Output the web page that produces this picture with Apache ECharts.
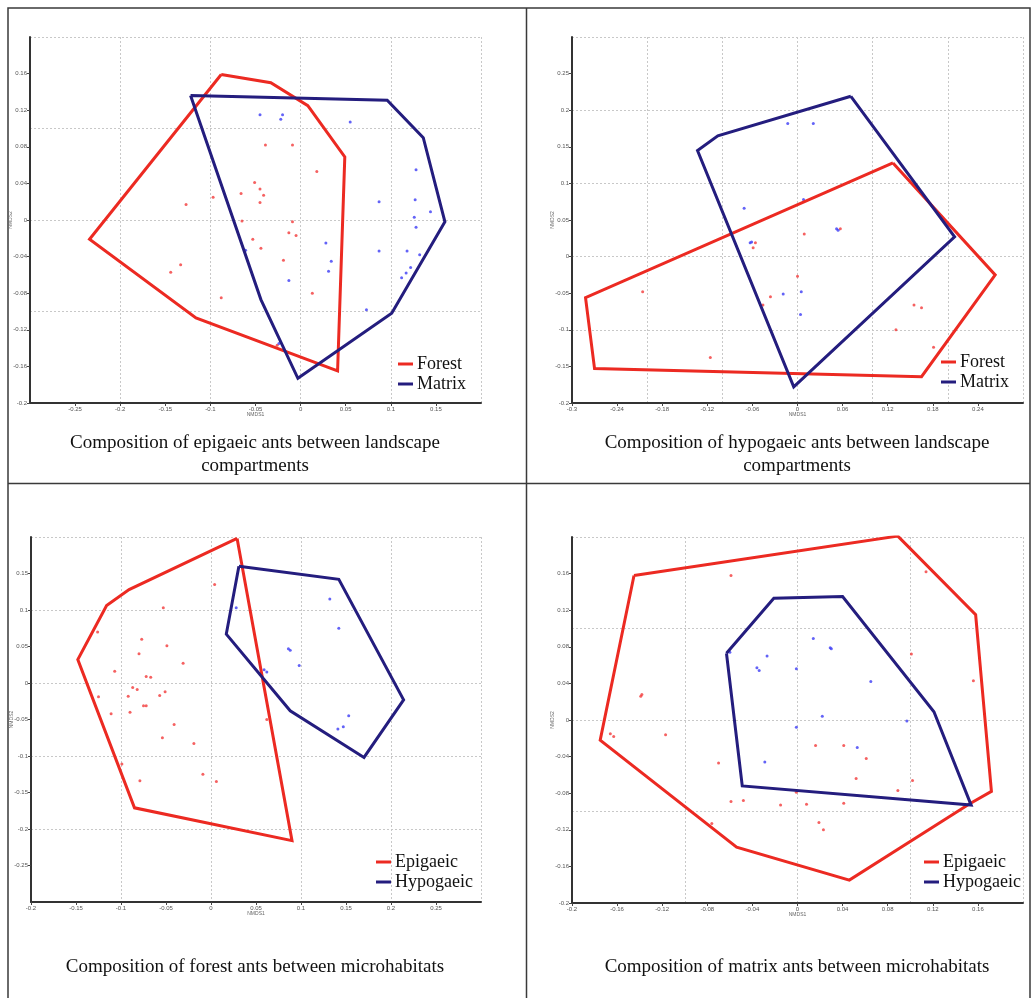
<!DOCTYPE html>
<html>
<head>
<meta charset="utf-8">
<title>NMDS ordination of ant assemblages</title>
<script src="https://cdn.jsdelivr.net/npm/echarts@6/dist/echarts.min.js"></script>
<style>
  html, body { margin: 0; padding: 0; background: #fff; }
  #chart { width: 1035px; height: 998px; }
</style>
</head>
<body>
<div id="chart"></div>
<script>
// ---- Epigaeic ants: Forest vs Matrix ----
const epiForestHull = [[-0.088,0.159],[-0.033,0.150],[0.008,0.125],[0.049,0.069],[0.041,-0.165],[-0.116,-0.107],[-0.234,-0.021],[-0.088,0.159]];
const epiMatrixHull = [[-0.122,0.136],[0.096,0.131],[0.136,0.090],[0.160,-0.002],[0.101,-0.102],[-0.003,-0.173],[-0.044,-0.087],[-0.122,0.136]];
const epiForestPts = [[-0.127,0.017],[-0.097,0.025],[-0.066,0.029],[-0.051,0.041],[-0.045,0.034],[-0.045,0.019],[-0.041,0.027],[-0.065,-0.001],[-0.053,-0.021],[-0.044,-0.031],[-0.133,-0.049],[-0.144,-0.057],[-0.088,-0.085],[-0.039,0.082],[-0.009,0.082],[0.018,0.053],[-0.009,-0.002],[-0.013,-0.014],[-0.005,-0.017],[-0.019,-0.044],[0.013,-0.080],[-0.026,-0.137]];
const epiMatrixPts = [[-0.045,0.115],[-0.020,0.115],[-0.022,0.110],[0.055,0.107],[-0.061,-0.033],[-0.013,-0.066],[0.028,-0.025],[0.034,-0.045],[0.031,-0.056],[0.087,0.020],[0.128,0.055],[0.127,0.022],[0.126,0.003],[0.128,-0.008],[0.144,0.009],[0.087,-0.034],[0.118,-0.034],[0.132,-0.038],[0.122,-0.052],[0.117,-0.058],[0.112,-0.063],[0.073,-0.098],[-0.024,-0.135]];

// ---- Hypogaeic ants: Forest vs Matrix ----
const hypoForestHull = [[0.127,0.128],[0.263,-0.025],[0.165,-0.164],[-0.270,-0.153],[-0.282,-0.056],[0.127,0.128]];
const hypoMatrixHull = [[0.071,0.219],[0.209,0.027],[-0.005,-0.178],[-0.133,0.145],[-0.106,0.165],[0.071,0.219]];
const hypoForestPts = [[-0.206,-0.048],[-0.116,-0.138],[-0.056,0.019],[-0.059,0.012],[-0.036,-0.055],[-0.046,-0.066],[0.009,0.031],[0.000,-0.027],[0.057,0.038],[0.155,-0.066],[0.165,-0.070],[0.131,-0.100],[0.181,-0.124]];
const hypoMatrixPts = [[-0.013,0.182],[0.021,0.182],[-0.071,0.066],[-0.063,0.019],[-0.061,0.020],[-0.019,-0.051],[0.008,0.078],[0.052,0.038],[0.054,0.036],[0.005,-0.048],[0.004,-0.079]];

// ---- Forest ants: Epigaeic vs Hypogaeic ----
const forEpiHull = [[0.029,0.198],[0.090,-0.216],[-0.085,-0.171],[-0.148,0.032],[-0.116,0.106],[-0.091,0.128],[0.029,0.198]];
const forHypoHull = [[0.031,0.160],[0.142,0.142],[0.214,-0.023],[0.170,-0.102],[0.088,-0.038],[0.017,0.067],[0.031,0.160]];
const forEpiPts = [[0.004,0.135],[-0.053,0.103],[-0.126,0.070],[-0.077,0.060],[-0.049,0.051],[-0.080,0.040],[-0.031,0.027],[-0.107,0.016],[-0.072,0.009],[-0.067,0.008],[-0.125,-0.019],[-0.087,-0.006],[-0.082,-0.009],[-0.092,-0.018],[-0.051,-0.012],[-0.057,-0.017],[-0.075,-0.031],[-0.072,-0.031],[-0.111,-0.042],[-0.090,-0.040],[-0.041,-0.057],[-0.054,-0.075],[-0.019,-0.083],[-0.099,-0.111],[-0.009,-0.125],[-0.079,-0.134],[0.006,-0.135],[0.062,-0.050]];
const forHypoPts = [[0.028,0.103],[0.086,0.047],[0.088,0.045],[0.098,0.024],[0.059,0.018],[0.062,0.015],[0.132,0.115],[0.142,0.075],[0.153,-0.045],[0.147,-0.060],[0.141,-0.063]];

// ---- Matrix ants: Epigaeic vs Hypogaeic ----
const matEpiHull = [[-0.145,0.158],[0.089,0.201],[0.158,0.115],[0.172,-0.078],[0.152,-0.092],[0.046,-0.175],[-0.054,-0.139],[-0.175,-0.022],[-0.145,0.158]];
const matHypoHull = [[-0.063,0.073],[-0.021,0.133],[0.040,0.135],[0.121,0.009],[0.154,-0.093],[-0.049,-0.072],[-0.063,0.073]];
const matEpiPts = [[-0.059,0.158],[-0.138,0.028],[-0.139,0.026],[-0.166,-0.015],[-0.163,-0.018],[-0.117,-0.016],[-0.070,-0.047],[-0.059,-0.089],[-0.048,-0.088],[-0.015,-0.093],[-0.076,-0.113],[0.114,0.162],[0.101,0.072],[0.156,0.043],[0.016,-0.028],[0.041,-0.028],[0.061,-0.042],[0.052,-0.064],[0.102,-0.066],[0.089,-0.077],[0.008,-0.092],[0.041,-0.091],[0.019,-0.112],[0.023,-0.120],[-0.001,-0.079]];
const matHypoPts = [[-0.060,0.074],[-0.027,0.070],[-0.036,0.057],[-0.034,0.054],[-0.029,-0.046],[0.014,0.089],[-0.001,0.056],[0.029,0.079],[0.030,0.078],[0.065,0.042],[0.022,0.004],[-0.001,-0.008],[0.053,-0.030],[0.097,-0.001]];

// ---- Axis scales: [min, max, tick interval] ----
const xScales = [[-0.3, 0.2, 0.05], [-0.3, 0.3, 0.06], [-0.2, 0.3, 0.05], [-0.2, 0.2, 0.04]];
const yScales = [[-0.2, 0.2, 0.04], [-0.2, 0.3, 0.05], [-0.3, 0.2, 0.05], [-0.2, 0.2, 0.04]];
// whether the end labels of each axis are printed: [showMin, showMax]
const xEndLabels = [[false, false], [true, false], [true, false], [true, false]];
const yEndLabels = [[true, false], [true, false], [false, false], [true, false]];

const legendNames = [['Forest', 'Matrix'], ['Forest', 'Matrix'], ['Epigaeic', 'Hypogaeic'], ['Epigaeic', 'Hypogaeic']];
const panelTitles = [
  ['Composition of epigaeic ants between landscape', 'compartments'],
  ['Composition of hypogaeic ants between landscape', 'compartments'],
  ['Composition of forest ants between microhabitats'],
  ['Composition of matrix ants between microhabitats']
];
const hulls = [[epiForestHull, epiMatrixHull], [hypoForestHull, hypoMatrixHull], [forEpiHull, forHypoHull], [matEpiHull, matHypoHull]];
const points = [[epiForestPts, epiMatrixPts], [hypoForestPts, hypoMatrixPts], [forEpiPts, forHypoPts], [matEpiPts, matHypoPts]];

// ---- Layout ----
const gridBoxes = [
  { left: 30, top: 37, width: 451, height: 366 },
  { left: 572, top: 37, width: 451, height: 366 },
  { left: 31, top: 537, width: 450, height: 365 },
  { left: 572, top: 537, width: 451, height: 366 }
];
const legendPos = [
  { left: 398, top: 354 },
  { left: 941, top: 352 },
  { left: 376, top: 852 },
  { left: 924, top: 852 }
];
const titlePos = [{ x: 255, y: 443 }, { x: 797, y: 443 }, { x: 255, y: 967 }, { x: 797, y: 967 }];

const RED = '#ec2a22';
const NAVY = '#241d7e';
const RED_PT = '#f23a3a';
const BLUE_PT = '#3c3cf5';
const SERIF = '"Liberation Serif", "DejaVu Serif", serif';

const grids = [], xAxes = [], yAxes = [], series = [], legends = [], graphics = [];

const labelStyle = { fontSize: 6, color: '#555', fontFamily: 'Arial, "Liberation Sans", sans-serif' };
const nameStyle = { fontSize: 5, color: '#666', fontFamily: 'Arial, "Liberation Sans", sans-serif' };
const gridLine = { show: true, lineStyle: { color: '#c8c8c8', type: [2, 2], width: 1 } };

gridBoxes.forEach((box, p) => {
  grids.push(box);
  const [x0, x1, xi] = xScales[p];
  const [y0, y1, yi] = yScales[p];
  // labelled axes
  xAxes.push({
    type: 'value', gridIndex: p, min: x0, max: x1, interval: xi,
    name: 'NMDS1', nameLocation: 'middle', nameGap: 9, nameMoveOverlap: false, nameTextStyle: nameStyle,
    axisLine: { show: true, onZero: false, lineStyle: { color: '#333', width: 2 } },
    axisTick: { show: true, length: 3, lineStyle: { color: '#444' } },
    axisLabel: { show: true, margin: 3, showMinLabel: xEndLabels[p][0], showMaxLabel: xEndLabels[p][1], ...labelStyle },
    splitLine: { show: false }
  });
  yAxes.push({
    type: 'value', gridIndex: p, min: y0, max: y1, interval: yi,
    name: 'NMDS2', nameLocation: 'middle', nameGap: 17, nameMoveOverlap: false, nameRotate: 90, nameTextStyle: nameStyle,
    axisLine: { show: true, onZero: false, lineStyle: { color: '#333', width: 2 } },
    axisTick: { show: true, length: 3, lineStyle: { color: '#444' } },
    axisLabel: { show: true, margin: 3, showMinLabel: yEndLabels[p][0], showMaxLabel: yEndLabels[p][1], ...labelStyle },
    splitLine: { show: false }
  });
  // dotted reference lines every 0.1
  xAxes.push({
    type: 'value', gridIndex: p, min: x0, max: x1, interval: 0.1,
    axisLine: { show: false }, axisTick: { show: false }, axisLabel: { show: false },
    splitLine: gridLine
  });
  yAxes.push({
    type: 'value', gridIndex: p, min: y0, max: y1, interval: 0.1,
    axisLine: { show: false }, axisTick: { show: false }, axisLabel: { show: false },
    splitLine: gridLine
  });
  const xi0 = p * 2, yi0 = p * 2;
  const names = legendNames[p];
  // site points
  series.push({
    type: 'scatter', name: names[0] + ' sites', xAxisIndex: xi0, yAxisIndex: yi0,
    data: points[p][0], symbolSize: 3, itemStyle: { color: RED_PT }, silent: true, z: 3
  });
  series.push({
    type: 'scatter', name: names[1] + ' sites', xAxisIndex: xi0, yAxisIndex: yi0,
    data: points[p][1], symbolSize: 3, itemStyle: { color: BLUE_PT }, silent: true, z: 3
  });
  // convex hulls
  series.push({
    type: 'line', name: names[0], xAxisIndex: xi0, yAxisIndex: yi0,
    data: hulls[p][0], showSymbol: false, symbol: 'none', color: RED,
    lineStyle: { color: RED, width: 3, join: 'miter' }, itemStyle: { color: RED }, silent: true, z: 4, animation: false
  });
  series.push({
    type: 'line', name: names[1], xAxisIndex: xi0, yAxisIndex: yi0,
    data: hulls[p][1], showSymbol: false, symbol: 'none', color: NAVY,
    lineStyle: { color: NAVY, width: 3, join: 'miter' }, itemStyle: { color: NAVY }, silent: true, z: 4, animation: false
  });
  legends.push({
    orient: 'vertical', left: legendPos[p].left, top: legendPos[p].top,
    data: names, icon: 'rect', itemWidth: 15, itemHeight: 3, itemGap: 0,
    selectedMode: false, padding: 0,
    textStyle: { fontFamily: SERIF, fontSize: 18, color: '#111', lineHeight: 20, padding: [0, 0, 0, -1] }
  });
  panelTitles[p].forEach((line, k) => {
    graphics.push({
      type: 'text', x: titlePos[p].x, y: titlePos[p].y + k * 23, silent: true,
      style: {
        text: line, font: '19px ' + SERIF, fill: '#111',
        align: 'center', verticalAlign: 'middle', textAlign: 'center', textVerticalAlign: 'middle'
      }
    });
  });
});

// panel frames
const frameStyle = { stroke: '#3a3a3a', lineWidth: 1.5, fill: null };
graphics.push({ type: 'rect', shape: { x: 8, y: 8, width: 1022, height: 992 }, style: frameStyle, silent: true });
graphics.push({ type: 'line', shape: { x1: 526.5, y1: 8, x2: 526.5, y2: 998 }, style: frameStyle, silent: true });
graphics.push({ type: 'line', shape: { x1: 8, y1: 483.5, x2: 1030, y2: 483.5 }, style: frameStyle, silent: true });

const chart = echarts.init(document.getElementById('chart'), null, { renderer: 'canvas' });
chart.setOption({
  backgroundColor: '#fff',
  animation: false,
  grid: grids,
  xAxis: xAxes,
  yAxis: yAxes,
  legend: legends,
  series: series,
  graphic: graphics
});
</script>
</body>
</html>
